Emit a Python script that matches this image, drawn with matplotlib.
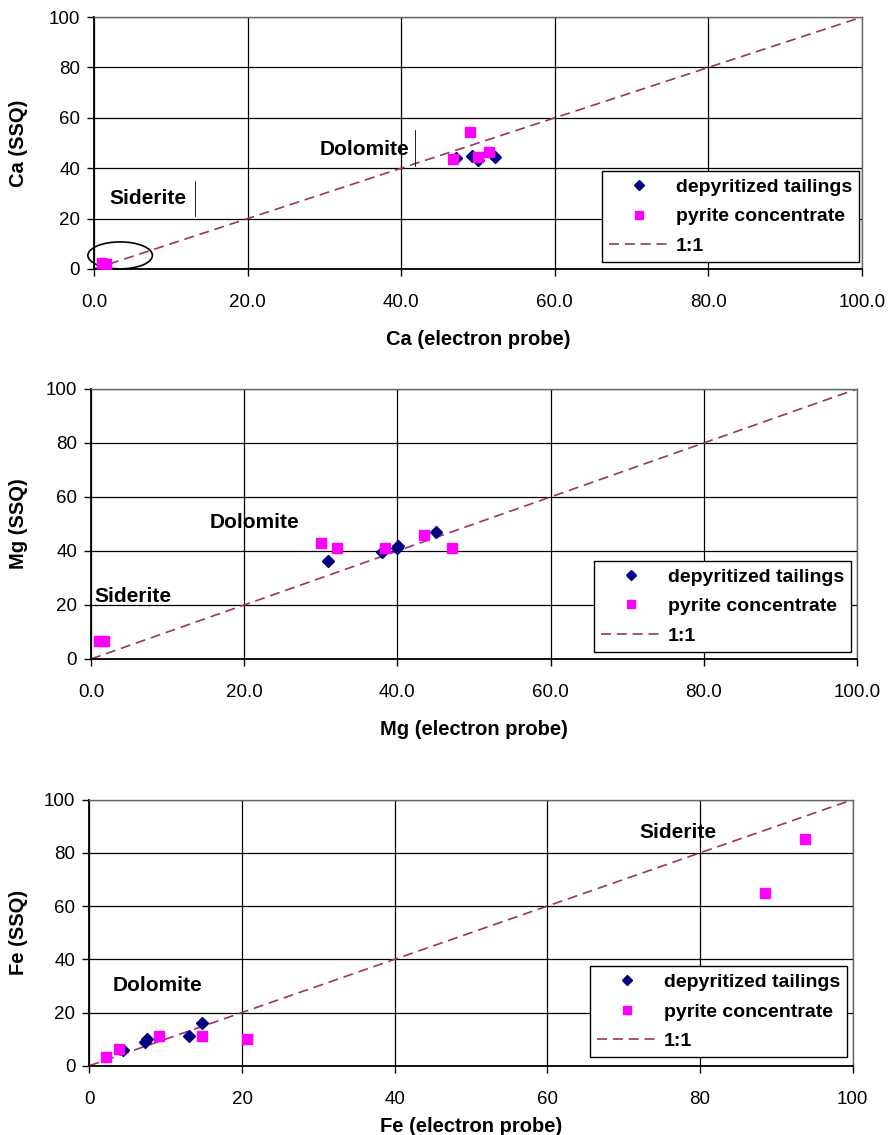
import matplotlib
matplotlib.use("Agg")
import matplotlib.pyplot as plt
from matplotlib.patches import Ellipse
from matplotlib.ticker import FormatStrFormatter

plt.rcParams['font.family'] = ['Liberation Sans', 'DejaVu Sans']

# Ca panel
ca_dep_x = [47.1, 49.2, 50.0, 52.2]
ca_dep_y = [44.2, 44.8, 43.3, 44.3]
ca_pyr_x = [49.0, 46.7, 50.0, 51.4, 1.1, 1.6]
ca_pyr_y = [54.5, 43.5, 44.6, 46.3, 2.3, 2.0]

# Mg panel
mg_dep_x = [31.0, 38.0, 39.9, 40.1, 45.0]
mg_dep_y = [36.2, 39.6, 41.2, 41.7, 46.9]
mg_pyr_x = [30.0, 32.1, 38.4, 43.5, 47.1, 1.0, 1.7]
mg_pyr_y = [42.9, 41.2, 41.2, 46.1, 41.2, 6.5, 6.5]

# Fe panel
fe_dep_x = [4.45, 7.3, 7.5, 13.0, 14.8]
fe_dep_y = [5.9, 9.0, 9.9, 11.0, 15.9]
fe_pyr_x = [2.2, 3.9, 9.1, 14.7, 20.6, 93.7, 88.5]
fe_pyr_y = [3.2, 6.4, 11.3, 11.3, 10.1, 85.2, 65.0]

one_to_one = [0, 100]

panels = [
    dict(dx=ca_dep_x, dy=ca_dep_y, px=ca_pyr_x, py=ca_pyr_y, el='Ca',
         rect=[0.1059, 0.763, 0.8649, 0.222], fmt='%.1f',
         dol=(29.4, 47.6), sid=(2.0, 27.8), leg=(0.996, 0.028),
         ylab=-0.086, xlab=-0.242),
    dict(dx=mg_dep_x, dy=mg_dep_y, px=mg_pyr_x, py=mg_pyr_y, el='Mg',
         rect=[0.1025, 0.4194, 0.8626, 0.2379], fmt='%.1f',
         dol=(15.5, 50.6), sid=(0.5, 23.2), leg=(0.992, 0.027),
         ylab=-0.082, xlab=-0.226),
    dict(dx=fe_dep_x, dy=fe_dep_y, px=fe_pyr_x, py=fe_pyr_y, el='Fe',
         rect=[0.1006, 0.0610, 0.8597, 0.2345], fmt='%d',
         dol=(3.0, 30.3), sid=(72.1, 87.8), leg=(0.9925, 0.033),
         ylab=-0.080, xlab=-0.193),
]

fig = plt.figure(figsize=(8.88, 11.35), dpi=100)

for i, p in enumerate(panels):
    ax = fig.add_axes(p['rect'])
    ax.plot(p['dx'], p['dy'], linestyle='none', marker='D', markersize=6.5,
            color='#000080', label='depyritized tailings', zorder=3)
    ax.plot(p['px'], p['py'], linestyle='none', marker='s', markersize=6.5,
            color='#FF00FF', label='pyrite concentrate', zorder=4)
    ax.plot(one_to_one, one_to_one, linestyle=(0, (6, 3.5)), color='#993366',
            linewidth=1.2, label='1:1', zorder=2)
    ax.set_xlim(0, 100)
    ax.set_ylim(0, 100)
    ax.set_xticks([0, 20, 40, 60, 80, 100])
    ax.set_yticks([0, 20, 40, 60, 80, 100])
    ax.xaxis.set_major_formatter(FormatStrFormatter(p['fmt']))
    ax.grid(True, color='black', linewidth=0.9)
    ax.set_axisbelow(True)
    for s in ['top', 'right']:
        ax.spines[s].set_color('#666666')
        ax.spines[s].set_linewidth(1.0)
    for s in ['left', 'bottom']:
        ax.spines[s].set_linewidth(1.3)
    ax.tick_params(direction='out', length=5, width=1, labelsize=13.5)
    ax.tick_params(axis='x', pad=13)
    ax.tick_params(axis='y', pad=5)
    ax.set_ylabel(p['el'] + ' (SSQ)', fontsize=14.5, fontweight='bold')
    ax.set_xlabel(p['el'] + ' (electron probe)', fontsize=14.5, fontweight='bold')
    ax.yaxis.set_label_coords(p['ylab'], 0.5)
    ax.xaxis.set_label_coords(0.5, p['xlab'])
    ax.text(p['dol'][0], p['dol'][1], 'Dolomite', fontsize=15, fontweight='bold',
            va='center', ha='left')
    ax.text(p['sid'][0], p['sid'][1], 'Siderite', fontsize=15, fontweight='bold',
            va='center', ha='left')
    leg = ax.legend(loc='lower right', bbox_to_anchor=p['leg'],
                    prop={'weight': 'bold', 'size': 14}, frameon=True,
                    fancybox=False, edgecolor='black', framealpha=1,
                    borderpad=0.35, labelspacing=0.62, handlelength=3.1,
                    handletextpad=0.35, borderaxespad=0, markerscale=0.8)
    leg.get_frame().set_linewidth(1.0)
    if i == 0:
        ax.add_patch(Ellipse((3.4, 5.4), 8.4, 10.7, fill=False,
                             edgecolor='black', linewidth=1.2, clip_on=False))
        ax.plot([41.8, 41.8], [41.0, 55.0], color='black', linewidth=0.6)
        ax.plot([13.2, 13.2], [21.0, 35.0], color='black', linewidth=0.6)

fig.savefig('out.png', dpi=100)
